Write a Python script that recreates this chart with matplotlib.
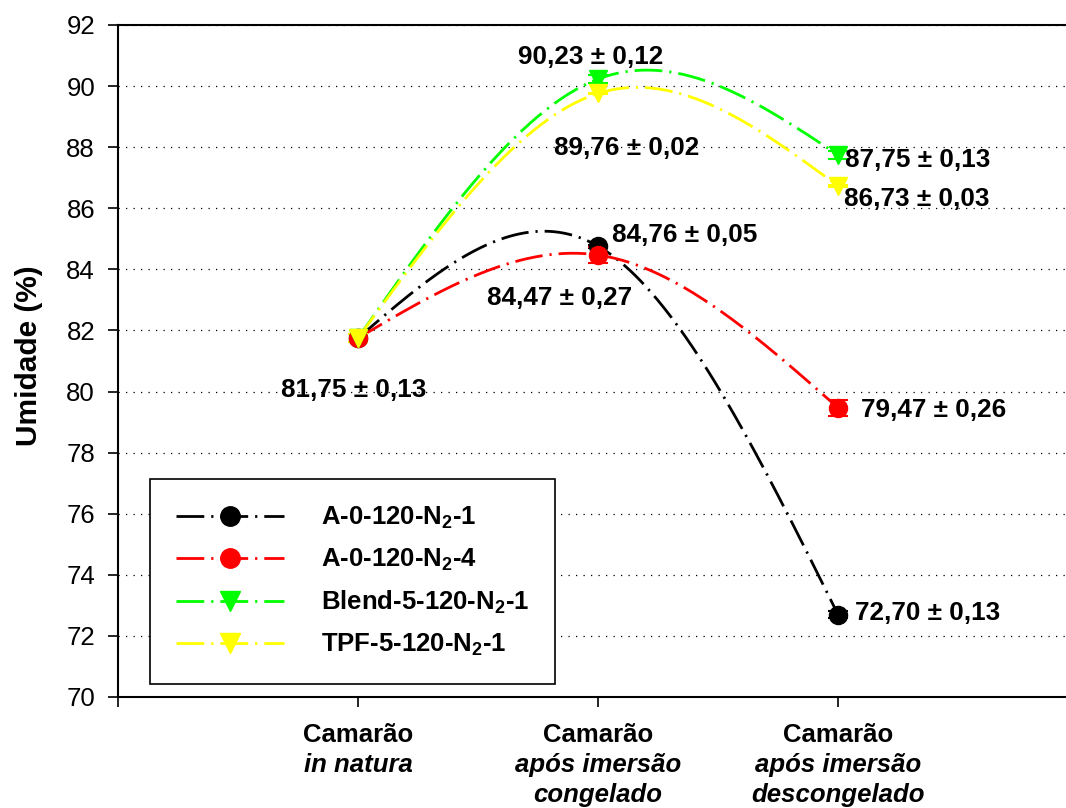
import numpy as np
import matplotlib
matplotlib.use("Agg")
import matplotlib.pyplot as plt
from matplotlib.lines import Line2D

plt.rcParams['font.family'] = ['Liberation Sans', 'DejaVu Sans']
plt.rcParams['mathtext.fontset'] = 'custom'
plt.rcParams['mathtext.rm'] = 'Liberation Sans:bold'
plt.rcParams['mathtext.it'] = 'Liberation Sans:bold'
plt.rcParams['mathtext.bf'] = 'Liberation Sans:bold'

# ---- data ----
stages = [1, 2, 3]
stage_line1 = ["Camarão", "Camarão", "Camarão"]
stage_line2 = ["in natura", "após imersão", "após imersão"]
stage_line3 = ["", "congelado", "descongelado"]

series_names = [r"A-0-120-N$_2$-1", r"A-0-120-N$_2$-4",
                r"Blend-5-120-N$_2$-1", r"TPF-5-120-N$_2$-1"]
a0_n1 = [81.75, 84.76, 72.70]
a0_n1_err = [0.13, 0.05, 0.13]
a0_n4 = [81.75, 84.47, 79.47]
a0_n4_err = [0.13, 0.27, 0.26]
blend = [81.75, 90.23, 87.75]
blend_err = [0.13, 0.12, 0.13]
tpf = [81.75, 89.76, 86.73]
tpf_err = [0.13, 0.02, 0.03]

labels_text = ["81,75 ± 0,13", "84,47 ± 0,27", "84,76 ± 0,05", "90,23 ± 0,12",
               "89,76 ± 0,02", "87,75 ± 0,13", "86,73 ± 0,03", "79,47 ± 0,26",
               "72,70 ± 0,13"]
labels_x = [0.98, 1.84, 2.36, 1.97, 2.12, 3.33, 3.33, 3.40, 3.375]
labels_y = [80.05, 83.06, 85.13, 90.95, 87.97, 87.58, 86.30, 79.40, 72.75]

colors = ['black', 'red', '#00ff00', '#ffff00']
markers = ['o', 'o', 'v', 'v']
values = [a0_n1, a0_n4, blend, tpf]
errors = [a0_n1_err, a0_n4_err, blend_err, tpf_err]


def natural_spline(xs, ys, n=200):
    xs = np.asarray(xs, float)
    ys = np.asarray(ys, float)
    k = len(xs)
    h = np.diff(xs)
    A = np.zeros((k, k))
    b = np.zeros(k)
    A[0, 0] = 1
    A[-1, -1] = 1
    for i in range(1, k - 1):
        A[i, i - 1] = h[i - 1]
        A[i, i] = 2 * (h[i - 1] + h[i])
        A[i, i + 1] = h[i]
        b[i] = 6 * ((ys[i + 1] - ys[i]) / h[i] - (ys[i] - ys[i - 1]) / h[i - 1])
    M = np.linalg.solve(A, b)
    xx = np.linspace(xs[0], xs[-1], n)
    yy = np.empty_like(xx)
    for j, x in enumerate(xx):
        i = min(np.searchsorted(xs, x, side='right') - 1, k - 2)
        t0 = xs[i + 1] - x
        t1 = x - xs[i]
        hi = h[i]
        yy[j] = (M[i] * t0 ** 3 / (6 * hi) + M[i + 1] * t1 ** 3 / (6 * hi)
                 + (ys[i] / hi - M[i] * hi / 6) * t0
                 + (ys[i + 1] / hi - M[i + 1] * hi / 6) * t1)
    return xx, yy


fig = plt.figure(figsize=(10.66, 8.08), dpi=100)
ax = fig.add_axes([118 / 1066, 111 / 808, 960 / 1066, 672 / 808])

dash = (0, (10, 2.5, 0.8, 2.5))
handles = []
for vals, errs, c, m, name in zip(values, errors, colors, markers, series_names):
    xx, yy = natural_spline(stages, vals)
    ax.plot(xx, yy, color=c, lw=2, ls=dash, zorder=2)
    ax.errorbar(stages, vals, yerr=errs, fmt=m, color=c, ms=13, capsize=7,
                elinewidth=1.5, capthick=1.5, zorder=3)
    handles.append(Line2D([], [], color=c, lw=2, ls=dash, marker=m, ms=14))

for t, x, y in zip(labels_text, labels_x, labels_y):
    ax.text(x, y, t, ha='center', va='center', fontsize=18.8, fontweight='bold')

ax.set_xlim(0, 4)
ax.set_ylim(70, 92)
ax.set_yticks(np.arange(70, 93, 2))
ax.set_xticks([0, 1, 2, 3, 4])
ax.set_xticklabels([])
ax.tick_params(axis='both', direction='out', length=7, width=1.2, labelsize=18.5, pad=9.5)
ax.yaxis.grid(True, ls=(0, (1, 5)), color='black', lw=0.9)
ax.set_axisbelow(True)
for s in ax.spines.values():
    s.set_linewidth(1.5)

xfs = 18.5
for x, l1, l2, l3 in zip(stages, stage_line1, stage_line2, stage_line3):
    ax.annotate(l1, xy=(x, 0), xycoords=('data', 'axes fraction'), xytext=(0, -32.4),
                textcoords='offset points', ha='center', va='baseline',
                fontsize=xfs, fontweight='bold')
    ax.annotate(l2, xy=(x, 0), xycoords=('data', 'axes fraction'), xytext=(0, -54.0),
                textcoords='offset points', ha='center', va='baseline',
                fontsize=xfs, fontweight='bold', fontstyle='italic')
    if l3:
        ax.annotate(l3, xy=(x, 0), xycoords=('data', 'axes fraction'), xytext=(0, -75.5),
                    textcoords='offset points', ha='center', va='baseline',
                    fontsize=xfs, fontweight='bold', fontstyle='italic')

ax.set_ylabel("Umidade (%)", fontsize=21.5, fontweight='bold', va='center')
ax.yaxis.set_label_coords((29 - 118) / 960, (697 - 356) / 672)

leg = ax.legend(handles, series_names, loc='upper left',
                bbox_to_anchor=((150 - 118) / 960, (697 - 479) / 672),
                borderaxespad=0, prop={'weight': 'bold', 'size': 18.5},
                handlelength=4.2, handletextpad=1.45, borderpad=1.0,
                labelspacing=0.62,
                fancybox=False, framealpha=1, numpoints=1)
leg.get_frame().set_edgecolor('black')
leg.get_frame().set_linewidth(1.2)

fig.savefig("out.png", dpi=100)
